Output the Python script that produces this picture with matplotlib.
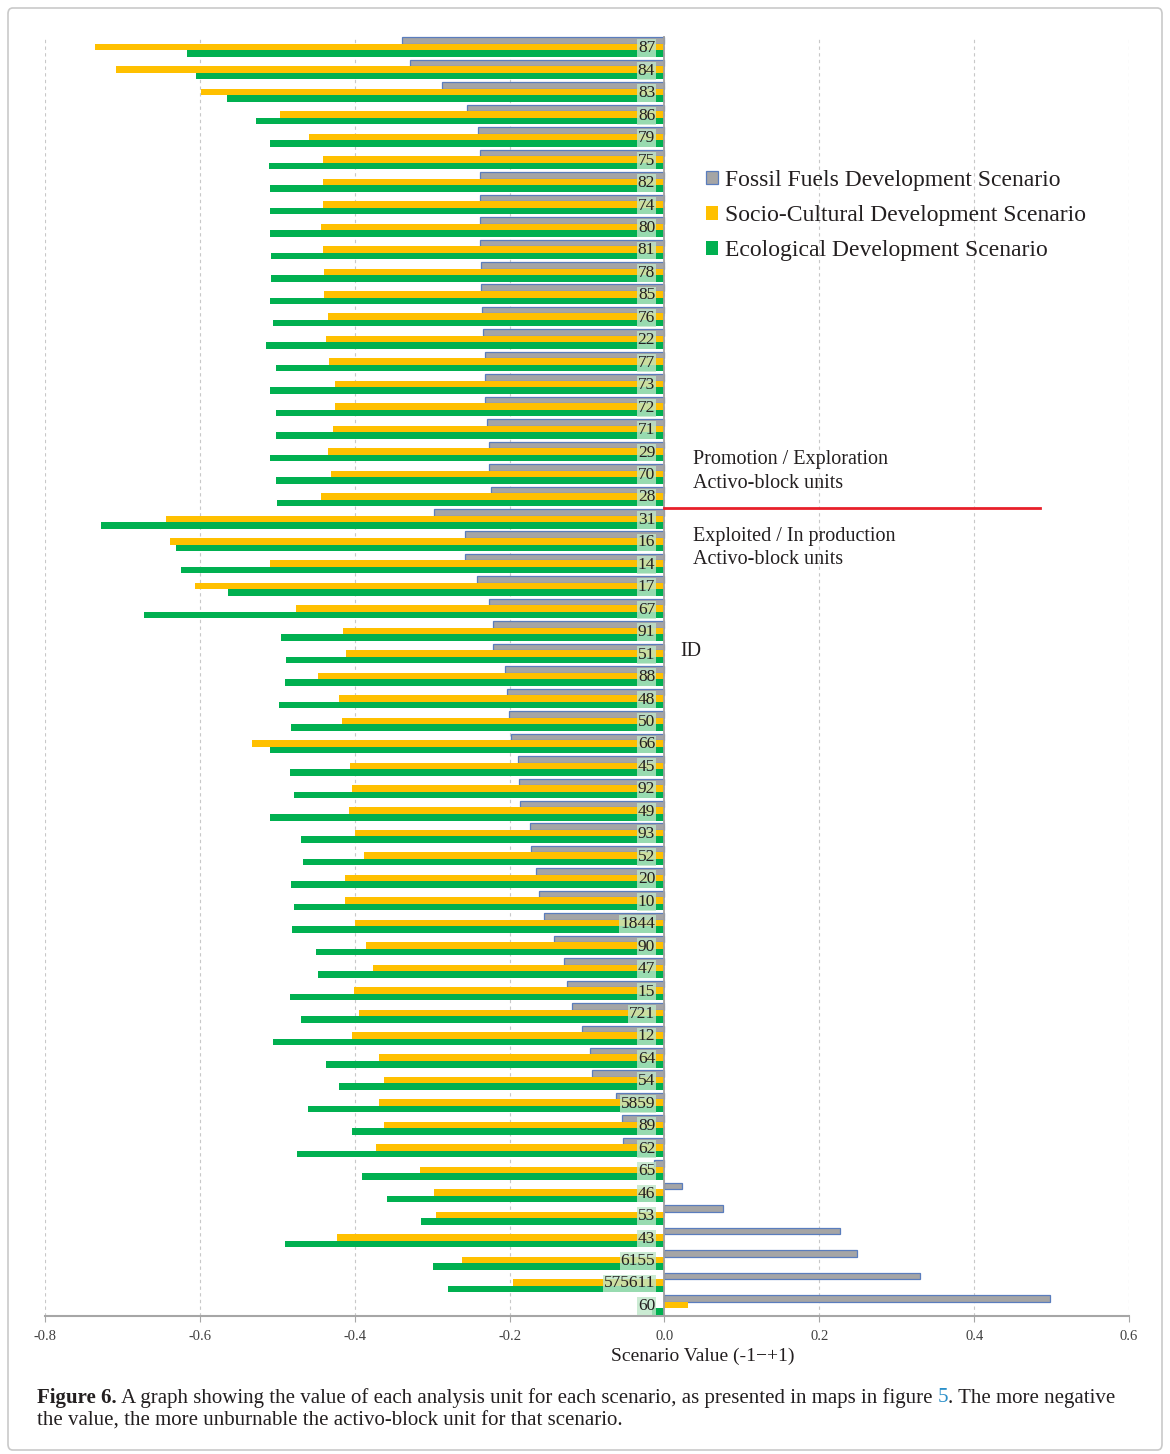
import matplotlib
matplotlib.use("Agg")
import matplotlib.pyplot as plt
from matplotlib.patches import Patch, FancyBboxPatch
import numpy as np

# ---------------- data ----------------
ids = ['87', '84', '83', '86', '79', '75', '82', '74', '80', '81', '78', '85', '76', '22',
       '77', '73', '72', '71', '29', '70', '28', '31', '16', '14', '17', '67', '91', '51',
       '88', '48', '50', '66', '45', '92', '49', '93', '52', '20', '10', '1844', '90', '47',
       '15', '721', '12', '64', '54', '5859', '89', '62', '65', '46', '53', '43', '6155',
       '575611', '60']

fossil = [-0.339, -0.329, -0.287, -0.255, -0.241, -0.238, -0.238, -0.238, -0.238, -0.238,
          -0.237, -0.237, -0.235, -0.234, -0.232, -0.232, -0.232, -0.229, -0.227, -0.227,
          -0.224, -0.297, -0.257, -0.257, -0.242, -0.227, -0.221, -0.221, -0.206, -0.203,
          -0.201, -0.198, -0.189, -0.188, -0.186, -0.173, -0.172, -0.166, -0.162, -0.155,
          -0.142, -0.130, -0.126, -0.119, -0.107, -0.096, -0.094, -0.063, -0.055, -0.053,
          -0.014, 0.023, 0.076, 0.227, 0.249, 0.330, 0.498]

socio = [-0.735, -0.708, -0.599, -0.497, -0.459, -0.441, -0.441, -0.441, -0.443, -0.441,
         -0.440, -0.440, -0.435, -0.437, -0.433, -0.426, -0.426, -0.428, -0.435, -0.430,
         -0.443, -0.644, -0.638, -0.510, -0.606, -0.476, -0.415, -0.411, -0.447, -0.420,
         -0.416, -0.533, -0.406, -0.404, -0.407, -0.400, -0.388, -0.413, -0.413, -0.400,
         -0.385, -0.376, -0.401, -0.395, -0.403, -0.369, -0.362, -0.369, -0.362, -0.373,
         -0.316, -0.297, -0.295, -0.423, -0.262, -0.196, 0.031]

eco = [-0.617, -0.605, -0.565, -0.527, -0.510, -0.511, -0.509, -0.509, -0.510, -0.508,
       -0.508, -0.509, -0.506, -0.515, -0.502, -0.509, -0.502, -0.502, -0.509, -0.502,
       -0.500, -0.728, -0.631, -0.625, -0.564, -0.672, -0.495, -0.489, -0.490, -0.498,
       -0.482, -0.510, -0.484, -0.479, -0.510, -0.470, -0.467, -0.482, -0.479, -0.481,
       -0.450, -0.447, -0.484, -0.470, -0.506, -0.437, -0.420, -0.460, -0.403, -0.474,
       -0.390, -0.358, -0.314, -0.490, -0.299, -0.279, -0.016]

series_names = ['Fossil Fuels Development Scenario',
                'Socio-Cultural Development Scenario',
                'Ecological Development Scenario']

xticks = [-0.8, -0.6, -0.4, -0.2, 0.0, 0.2, 0.4, 0.6]
xticklabels = ['-0.8', '-0.6', '-0.4', '-0.2', '0.0', '0.2', '0.4', '0.6']

# ---------------- style ----------------
W, H = 1170, 1454
SERIF = ['Liberation Serif', 'DejaVu Serif']
plt.rcParams['font.family'] = SERIF

GRAY = '#a5a5a5'
GRAY_EDGE = '#5a7dbd'
YELLOW = '#ffc000'
GREEN = '#00b050'
TEXT = '#231f20'

fig = plt.figure(figsize=(W / 100, H / 100), dpi=100)
fig.patch.set_facecolor('white')


def fx(px):
    return px / W


def fy(py):
    return 1 - py / H


ax_left, ax_right, ax_top, ax_bottom = 45, 1129, 36, 1316
ax = fig.add_axes([fx(ax_left), fy(ax_bottom), fx(ax_right - ax_left), (ax_bottom - ax_top) / H])

n = len(ids)
y = np.arange(n)
bh = 0.29

ax.barh(y - bh, fossil, height=bh, color=GRAY, edgecolor=GRAY_EDGE, linewidth=0.9, zorder=3)
ax.barh(y, socio, height=bh, color=YELLOW, edgecolor='none', zorder=3)
ax.barh(y + bh, eco, height=bh, color=GREEN, edgecolor='none', zorder=3)

for i, lab in enumerate(ids):
    ax.text(-0.012, y[i] + 0.05, lab, ha='right', va='center', fontsize=12.5, color=TEXT,
            family=SERIF, zorder=5,
            bbox=dict(boxstyle='square,pad=0.05', facecolor='#bfe6c9', edgecolor='none', alpha=0.8))

ax.set_xlim(-0.8, 0.6)
ax.set_ylim(n - 0.5, -0.5)
ax.set_xticks(xticks)
ax.set_xticklabels(xticklabels, fontsize=10.5, color='#404040')
ax.set_yticks([])
ax.xaxis.grid(True, linestyle=(0, (3, 3)), color='#c8c8c8', linewidth=0.8, zorder=0)
ax.set_axisbelow(True)
for s in ['top', 'right', 'left']:
    ax.spines[s].set_visible(False)
ax.spines['bottom'].set_color('#a6a6a6')
ax.spines['bottom'].set_linewidth(1.5)
ax.tick_params(axis='x', length=4, color='#a6a6a6', pad=6)
ax.axvline(0, color='#a0a0a0', linewidth=1.3, zorder=4)

# separator line between groups
ax.plot([0, 0.485], [20.5, 20.5], color='#e8202a', linewidth=2, zorder=6, clip_on=False)

# legend
handles = [Patch(facecolor=GRAY, edgecolor=GRAY_EDGE, linewidth=0.9, label=series_names[0]),
           Patch(facecolor=YELLOW, edgecolor='none', label=series_names[1]),
           Patch(facecolor=GREEN, edgecolor='none', label=series_names[2])]
fig.legend(handles=handles, loc='upper left', bbox_to_anchor=(fx(706), fy(170)),
           frameon=False, fontsize=17, handlelength=0.5, handleheight=0.5,
           handletextpad=0.3, labelspacing=0.6, borderaxespad=0, borderpad=0,
           labelcolor=TEXT)

# annotations
ann_fs = 14.5
fig.text(fx(693), fy(459), 'Promotion / Exploration', fontsize=ann_fs, va='center', ha='left', color=TEXT)
fig.text(fx(693), fy(483), 'Activo-block units', fontsize=ann_fs, va='center', ha='left', color=TEXT)
fig.text(fx(693), fy(536), 'Exploited / In production', fontsize=ann_fs, va='center', ha='left', color=TEXT)
fig.text(fx(693), fy(560), 'Activo-block units', fontsize=ann_fs, va='center', ha='left', color=TEXT)
fig.text(fx(680), fy(651), 'ID', fontsize=ann_fs, va='center', ha='left', color=TEXT)

# x label
fig.text(fx(703), fy(1356), 'Scenario Value (-1\u2212+1)', fontsize=14, ha='center', va='center', color=TEXT)

# caption with mixed styles
cap_fs = 15
fig.canvas.draw()
renderer = fig.canvas.get_renderer()


def put_pieces(pieces, x0, ypix):
    x = x0
    for txt, weight, color in pieces:
        t = fig.text(fx(x), fy(ypix), txt, fontsize=cap_fs, fontweight=weight, color=color,
                     ha='left', va='center')
        bb = t.get_window_extent(renderer=renderer)
        x += bb.width
    return x


put_pieces([('Figure 6.', 'bold', TEXT),
            (' A graph showing the value of each analysis unit for each scenario, as presented in maps in figure ', 'normal', TEXT),
            ('5', 'normal', '#2a8fc9'),
            ('. The more negative', 'normal', TEXT)], 37, 1398)
put_pieces([('the value, the more unburnable the activo-block unit for that scenario.', 'normal', TEXT)], 37, 1421)

# page frame
frame = FancyBboxPatch((fx(8), fy(1450)), fx(1154), (1450 - 8) / H,
                       boxstyle='round,pad=0,rounding_size=0.004', transform=fig.transFigure,
                       facecolor='none', edgecolor='#c9c9c9', linewidth=1.2)
fig.patches.append(frame)

fig.savefig('out.png', dpi=100, facecolor='white')
